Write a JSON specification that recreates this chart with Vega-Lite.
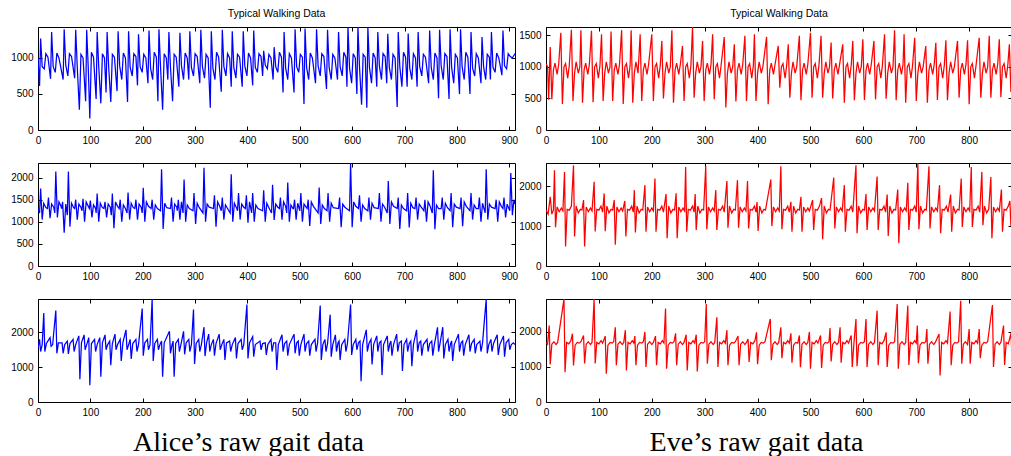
{
"$schema": "https://vega.github.io/schema/vega-lite/v6.json",
"background": "white",
"padding": {"left": 10, "top": 8, "right": 0, "bottom": 0},
"bounds": "flush",
"columns": 2,
"spacing": {"row": 33, "column": 31},
"concat": [
  {"data": {"name": "a1"}, "width": 477, "height": 103, "title": "Typical Walking Data",
   "layer": [
    {"mark": {"type": "line", "color": "#0000ff", "strokeWidth": 1.25, "clip": true},
     "encoding": {"x": {"field": "x", "type": "quantitative", "scale": {"domain": [0, 911], "nice": false}, "axis": {"values": [0,100,200,300,400,500,600,700,800,900]}},
                  "y": {"field": "y", "type": "quantitative", "scale": {"domain": [0, 1430], "nice": false}, "axis": {"values": [0,500,1000]}}}},
    {"mark": {"type": "line", "strokeOpacity": 0},
     "encoding": {"x": {"field": "x", "type": "quantitative", "axis": {"orient": "top", "labels": false, "values": [0,100,200,300,400,500,600,700,800,900]}},
                  "y": {"field": "y", "type": "quantitative", "axis": {"orient": "right", "labels": false, "values": [0,500,1000]}}}}
   ],
   "resolve": {"axis": {"x": "independent", "y": "independent"}}},
  {"data": {"name": "e1"}, "width": 466, "height": 103, "title": "Typical Walking Data",
   "layer": [
    {"mark": {"type": "line", "color": "#ff0000", "strokeWidth": 1.25, "clip": true},
     "encoding": {"x": {"field": "x", "type": "quantitative", "scale": {"domain": [0, 881], "nice": false}, "axis": {"values": [0,100,200,300,400,500,600,700,800]}},
                  "y": {"field": "y", "type": "quantitative", "scale": {"domain": [0, 1630], "nice": false}, "axis": {"values": [0,500,1000,1500]}}}},
    {"mark": {"type": "line", "strokeOpacity": 0},
     "encoding": {"x": {"field": "x", "type": "quantitative", "axis": {"orient": "top", "labels": false, "values": [0,100,200,300,400,500,600,700,800]}},
                  "y": {"field": "y", "type": "quantitative", "axis": {"orient": "right", "labels": false, "values": [0,500,1000,1500]}}}}
   ],
   "resolve": {"axis": {"x": "independent", "y": "independent"}}},
  {"data": {"name": "a2"}, "width": 477, "height": 103,
   "layer": [
    {"mark": {"type": "line", "color": "#0000ff", "strokeWidth": 1.25, "clip": true},
     "encoding": {"x": {"field": "x", "type": "quantitative", "scale": {"domain": [0, 911], "nice": false}, "axis": {"values": [0,100,200,300,400,500,600,700,800,900]}},
                  "y": {"field": "y", "type": "quantitative", "scale": {"domain": [0, 2330], "nice": false}, "axis": {"values": [0,500,1000,1500,2000]}}}},
    {"mark": {"type": "line", "strokeOpacity": 0},
     "encoding": {"x": {"field": "x", "type": "quantitative", "axis": {"orient": "top", "labels": false, "values": [0,100,200,300,400,500,600,700,800,900]}},
                  "y": {"field": "y", "type": "quantitative", "axis": {"orient": "right", "labels": false, "values": [0,500,1000,1500,2000]}}}}
   ],
   "resolve": {"axis": {"x": "independent", "y": "independent"}}},
  {"data": {"name": "e2"}, "width": 466, "height": 103,
   "layer": [
    {"mark": {"type": "line", "color": "#ff0000", "strokeWidth": 1.25, "clip": true},
     "encoding": {"x": {"field": "x", "type": "quantitative", "scale": {"domain": [0, 881], "nice": false}, "axis": {"values": [0,100,200,300,400,500,600,700,800]}},
                  "y": {"field": "y", "type": "quantitative", "scale": {"domain": [0, 2580], "nice": false}, "axis": {"values": [0,1000,2000]}}}},
    {"mark": {"type": "line", "strokeOpacity": 0},
     "encoding": {"x": {"field": "x", "type": "quantitative", "axis": {"orient": "top", "labels": false, "values": [0,100,200,300,400,500,600,700,800]}},
                  "y": {"field": "y", "type": "quantitative", "axis": {"orient": "right", "labels": false, "values": [0,1000,2000]}}}}
   ],
   "resolve": {"axis": {"x": "independent", "y": "independent"}}},
  {"data": {"name": "a3"}, "width": 477, "height": 103,
   "layer": [
    {"mark": {"type": "line", "color": "#0000ff", "strokeWidth": 1.25, "clip": true},
     "encoding": {"x": {"field": "x", "type": "quantitative", "scale": {"domain": [0, 911], "nice": false}, "axis": {"values": [0,100,200,300,400,500,600,700,800,900], "title": "Alice’s raw gait data", "titleFont": "Liberation Serif", "titleFontSize": 28, "titleFontWeight": "normal", "titleColor": "#000", "titleX": 210, "titleY": 48, "titleAlign": "center", "titleBaseline": "alphabetic", "titleAnchor": null}},
                  "y": {"field": "y", "type": "quantitative", "scale": {"domain": [0, 2960], "nice": false}, "axis": {"values": [0,1000,2000]}}}},
    {"mark": {"type": "line", "strokeOpacity": 0},
     "encoding": {"x": {"field": "x", "type": "quantitative", "axis": {"orient": "top", "labels": false, "values": [0,100,200,300,400,500,600,700,800,900]}},
                  "y": {"field": "y", "type": "quantitative", "axis": {"orient": "right", "labels": false, "values": [0,1000,2000]}}}}
   ],
   "resolve": {"axis": {"x": "independent", "y": "independent"}}},
  {"data": {"name": "e3"}, "width": 466, "height": 103,
   "layer": [
    {"mark": {"type": "line", "color": "#ff0000", "strokeWidth": 1.25, "clip": true},
     "encoding": {"x": {"field": "x", "type": "quantitative", "scale": {"domain": [0, 881], "nice": false}, "axis": {"values": [0,100,200,300,400,500,600,700,800], "title": "Eve’s raw gait data", "titleFont": "Liberation Serif", "titleFontSize": 28, "titleFontWeight": "normal", "titleColor": "#000", "titleX": 210, "titleY": 48, "titleAlign": "center", "titleBaseline": "alphabetic", "titleAnchor": null}},
                  "y": {"field": "y", "type": "quantitative", "scale": {"domain": [0, 2940], "nice": false}, "axis": {"values": [0,1000,2000]}}}},
    {"mark": {"type": "line", "strokeOpacity": 0},
     "encoding": {"x": {"field": "x", "type": "quantitative", "axis": {"orient": "top", "labels": false, "values": [0,100,200,300,400,500,600,700,800]}},
                  "y": {"field": "y", "type": "quantitative", "axis": {"orient": "right", "labels": false, "values": [0,1000,2000]}}}}
   ],
   "resolve": {"axis": {"x": "independent", "y": "independent"}}}
],
"datasets": {
"a1": [
{"x":0,"y":1000},{"x":3,"y":610},{"x":5,"y":1270},{"x":8,"y":880},{"x":12,"y":850},{"x":15,"y":1060},{"x":19,"y":1010},
{"x":24,"y":710},{"x":26,"y":1360},{"x":29,"y":880},{"x":33,"y":800},{"x":36,"y":1070},{"x":40,"y":1000},
{"x":48,"y":700},{"x":50,"y":1400},{"x":53,"y":900},{"x":57,"y":750},{"x":60,"y":1060},{"x":64,"y":1020},
{"x":70,"y":720},{"x":72,"y":1390},{"x":75,"y":870},{"x":79,"y":280},{"x":82,"y":1050},{"x":86,"y":1000},
{"x":91,"y":400},{"x":93,"y":1390},{"x":96,"y":860},{"x":99,"y":160},{"x":102,"y":1080},{"x":106,"y":1010},
{"x":111,"y":430},{"x":113,"y":1360},{"x":116,"y":880},{"x":120,"y":370},{"x":123,"y":1060},{"x":127,"y":1000},
{"x":130,"y":520},{"x":132,"y":1360},{"x":135,"y":870},{"x":139,"y":390},{"x":142,"y":1050},{"x":146,"y":1010},
{"x":151,"y":540},{"x":153,"y":1370},{"x":156,"y":890},{"x":160,"y":700},{"x":163,"y":1070},{"x":167,"y":1000},
{"x":171,"y":390},{"x":173,"y":1370},{"x":176,"y":870},{"x":180,"y":750},{"x":183,"y":1060},{"x":187,"y":1020},
{"x":190,"y":620},{"x":192,"y":1330},{"x":195,"y":880},{"x":199,"y":800},{"x":202,"y":1050},{"x":206,"y":1000},
{"x":210,"y":650},{"x":212,"y":1380},{"x":215,"y":860},{"x":219,"y":700},{"x":222,"y":1080},{"x":226,"y":1010},
{"x":229,"y":400},{"x":231,"y":1400},{"x":234,"y":880},{"x":238,"y":280},{"x":241,"y":1060},{"x":245,"y":1000},
{"x":248,"y":700},{"x":250,"y":1360},{"x":253,"y":870},{"x":257,"y":400},{"x":260,"y":1050},{"x":264,"y":1010},
{"x":269,"y":600},{"x":271,"y":1350},{"x":274,"y":890},{"x":278,"y":700},{"x":281,"y":1070},{"x":285,"y":1000},
{"x":288,"y":700},{"x":290,"y":1370},{"x":293,"y":870},{"x":297,"y":750},{"x":300,"y":1060},{"x":304,"y":1020},
{"x":309,"y":650},{"x":311,"y":1390},{"x":314,"y":880},{"x":318,"y":720},{"x":321,"y":1050},{"x":325,"y":1000},
{"x":329,"y":310},{"x":331,"y":1370},{"x":334,"y":860},{"x":338,"y":700},{"x":341,"y":1080},{"x":345,"y":1010},
{"x":350,"y":530},{"x":352,"y":1390},{"x":355,"y":880},{"x":359,"y":750},{"x":362,"y":1060},{"x":366,"y":1000},
{"x":369,"y":600},{"x":371,"y":1370},{"x":374,"y":870},{"x":378,"y":720},{"x":381,"y":1050},{"x":385,"y":1010},
{"x":390,"y":600},{"x":392,"y":1370},{"x":395,"y":890},{"x":399,"y":750},{"x":402,"y":1070},{"x":406,"y":1000},
{"x":410,"y":620},{"x":412,"y":1380},{"x":415,"y":870},{"x":419,"y":800},{"x":422,"y":1060},{"x":426,"y":1020},
{"x":429,"y":750},{"x":431,"y":1100},{"x":434,"y":900},{"x":438,"y":850},{"x":441,"y":1050},{"x":445,"y":1000},
{"x":449,"y":700},{"x":451,"y":1150},{"x":454,"y":880},{"x":458,"y":800},{"x":461,"y":1080},{"x":465,"y":1010},
{"x":468,"y":520},{"x":470,"y":1360},{"x":473,"y":860},{"x":477,"y":700},{"x":480,"y":1060},{"x":484,"y":1000},
{"x":489,"y":520},{"x":491,"y":1400},{"x":494,"y":880},{"x":498,"y":800},{"x":501,"y":1050},{"x":505,"y":1010},
{"x":508,"y":360},{"x":510,"y":1410},{"x":513,"y":870},{"x":517,"y":700},{"x":520,"y":1070},{"x":524,"y":1000},
{"x":530,"y":650},{"x":532,"y":1400},{"x":535,"y":890},{"x":539,"y":750},{"x":542,"y":1060},{"x":546,"y":1020},
{"x":551,"y":570},{"x":553,"y":1390},{"x":556,"y":870},{"x":560,"y":700},{"x":563,"y":1050},{"x":567,"y":1000},
{"x":572,"y":700},{"x":574,"y":1360},{"x":577,"y":880},{"x":581,"y":750},{"x":584,"y":1080},{"x":588,"y":1010},
{"x":590,"y":600},{"x":592,"y":1430},{"x":595,"y":860},{"x":599,"y":650},{"x":602,"y":1060},{"x":606,"y":1000},
{"x":609,"y":500},{"x":611,"y":1430},{"x":614,"y":880},{"x":618,"y":350},{"x":621,"y":1050},{"x":625,"y":1010},
{"x":628,"y":310},{"x":630,"y":1430},{"x":633,"y":870},{"x":637,"y":650},{"x":640,"y":1070},{"x":644,"y":1000},
{"x":647,"y":600},{"x":649,"y":1360},{"x":652,"y":890},{"x":656,"y":700},{"x":659,"y":1060},{"x":663,"y":1020},
{"x":666,"y":650},{"x":668,"y":1335},{"x":671,"y":870},{"x":675,"y":700},{"x":678,"y":1050},{"x":682,"y":1000},
{"x":686,"y":320},{"x":688,"y":1360},{"x":691,"y":880},{"x":695,"y":600},{"x":698,"y":1080},{"x":702,"y":1010},
{"x":705,"y":600},{"x":707,"y":1340},{"x":710,"y":860},{"x":714,"y":700},{"x":717,"y":1060},{"x":721,"y":1000},
{"x":724,"y":600},{"x":726,"y":1360},{"x":729,"y":880},{"x":733,"y":750},{"x":736,"y":1050},{"x":740,"y":1010},
{"x":746,"y":650},{"x":748,"y":1380},{"x":751,"y":870},{"x":755,"y":700},{"x":758,"y":1070},{"x":762,"y":1000},
{"x":765,"y":440},{"x":767,"y":1390},{"x":770,"y":890},{"x":774,"y":700},{"x":777,"y":1060},{"x":781,"y":1020},
{"x":785,"y":430},{"x":787,"y":1400},{"x":790,"y":870},{"x":794,"y":650},{"x":797,"y":1050},{"x":801,"y":1000},
{"x":805,"y":500},{"x":807,"y":1400},{"x":810,"y":880},{"x":814,"y":700},{"x":817,"y":1080},{"x":821,"y":1010},
{"x":825,"y":500},{"x":827,"y":1360},{"x":830,"y":860},{"x":834,"y":750},{"x":837,"y":1060},{"x":841,"y":1000},
{"x":846,"y":650},{"x":848,"y":1290},{"x":851,"y":880},{"x":855,"y":700},{"x":858,"y":1050},{"x":862,"y":1010},
{"x":864,"y":700},{"x":866,"y":1360},{"x":869,"y":870},{"x":873,"y":800},{"x":876,"y":1070},{"x":880,"y":1000},
{"x":886,"y":760},{"x":888,"y":1380},{"x":891,"y":890},{"x":895,"y":850},{"x":898,"y":1060},{"x":902,"y":1020},
{"x":906,"y":1000},{"x":911,"y":1060}
],
"a2": [
{"x":0,"y":1300},{"x":3,"y":1200},{"x":5,"y":1750},{"x":8,"y":1050},{"x":11,"y":1420},{"x":15,"y":1320},
{"x":18,"y":1300},{"x":20,"y":1550},{"x":23,"y":1080},{"x":26,"y":1400},{"x":30,"y":1330},
{"x":32,"y":1200},{"x":34,"y":2140},{"x":37,"y":1100},{"x":40,"y":1450},{"x":44,"y":1350},
{"x":45,"y":1300},{"x":47,"y":1450},{"x":50,"y":755},{"x":53,"y":1400},
{"x":56,"y":1150},{"x":58,"y":2140},{"x":61,"y":890},{"x":64,"y":1420},{"x":68,"y":1320},
{"x":70,"y":1300},{"x":72,"y":1500},{"x":75,"y":1050},{"x":78,"y":1400},{"x":82,"y":1330},
{"x":84,"y":1250},{"x":86,"y":1520},{"x":89,"y":1000},{"x":92,"y":1450},{"x":96,"y":1350},
{"x":98,"y":1300},{"x":100,"y":1480},{"x":103,"y":1100},{"x":106,"y":1380},{"x":110,"y":1300},
{"x":111,"y":1200},{"x":113,"y":1640},{"x":116,"y":1000},{"x":119,"y":1420},{"x":123,"y":1320},
{"x":126,"y":1300},{"x":128,"y":1450},{"x":131,"y":1100},{"x":134,"y":1400},{"x":138,"y":1330},
{"x":140,"y":1150},{"x":142,"y":1640},{"x":145,"y":855},{"x":148,"y":1450},{"x":152,"y":1350},
{"x":155,"y":1300},{"x":157,"y":1500},{"x":160,"y":1000},{"x":163,"y":1380},{"x":167,"y":1300},
{"x":170,"y":1200},{"x":172,"y":1660},{"x":175,"y":1050},{"x":178,"y":1420},{"x":182,"y":1320},
{"x":185,"y":1300},{"x":187,"y":1500},{"x":190,"y":1050},{"x":193,"y":1400},{"x":197,"y":1330},
{"x":199,"y":1200},{"x":201,"y":1770},{"x":204,"y":1000},{"x":207,"y":1450},{"x":211,"y":1350},
{"x":216,"y":1300},{"x":218,"y":1500},{"x":221,"y":1050},{"x":224,"y":1380},{"x":228,"y":1300},
{"x":234,"y":1250},{"x":236,"y":2190},{"x":239,"y":840},{"x":242,"y":1420},{"x":246,"y":1320},
{"x":253,"y":1300},{"x":255,"y":1550},{"x":258,"y":1000},{"x":261,"y":1400},{"x":265,"y":1330},
{"x":266,"y":1250},{"x":268,"y":1500},{"x":271,"y":1050},{"x":274,"y":1450},
{"x":277,"y":1200},{"x":279,"y":1955},{"x":282,"y":1000},{"x":285,"y":1380},{"x":289,"y":1300},
{"x":296,"y":1250},{"x":298,"y":1650},{"x":301,"y":950},{"x":304,"y":1420},{"x":308,"y":1320},
{"x":315,"y":1200},{"x":317,"y":2220},{"x":320,"y":1000},{"x":323,"y":1400},{"x":327,"y":1330},
{"x":335,"y":1300},{"x":337,"y":1600},{"x":340,"y":890},{"x":343,"y":1450},{"x":347,"y":1350},
{"x":350,"y":1250},{"x":352,"y":1550},{"x":355,"y":1050},{"x":358,"y":1380},{"x":362,"y":1300},
{"x":367,"y":1200},{"x":369,"y":2075},{"x":372,"y":1000},{"x":375,"y":1420},{"x":379,"y":1320},
{"x":381,"y":1250},{"x":383,"y":1650},{"x":386,"y":1050},{"x":389,"y":1400},{"x":393,"y":1330},
{"x":396,"y":1300},{"x":398,"y":1600},{"x":401,"y":980},{"x":404,"y":1450},
{"x":408,"y":1200},{"x":410,"y":1650},{"x":413,"y":1000},{"x":416,"y":1380},{"x":420,"y":1300},
{"x":429,"y":1250},{"x":431,"y":1715},{"x":434,"y":1000},{"x":437,"y":1420},{"x":441,"y":1320},
{"x":446,"y":1200},{"x":448,"y":1840},{"x":451,"y":1040},{"x":454,"y":1400},{"x":458,"y":1330},
{"x":461,"y":1300},{"x":463,"y":1550},{"x":466,"y":1050},{"x":469,"y":1450},{"x":473,"y":1350},
{"x":475,"y":1200},{"x":477,"y":1890},{"x":480,"y":1000},{"x":483,"y":1380},{"x":487,"y":1300},
{"x":488,"y":1300},{"x":490,"y":1500},{"x":493,"y":1050},{"x":496,"y":1420},
{"x":500,"y":1250},{"x":502,"y":1650},{"x":505,"y":1000},{"x":508,"y":1400},{"x":512,"y":1330},
{"x":514,"y":1300},{"x":516,"y":1500},{"x":519,"y":905},{"x":522,"y":1450},{"x":526,"y":1350},
{"x":535,"y":1200},{"x":537,"y":1775},{"x":540,"y":950},{"x":543,"y":1380},{"x":547,"y":1300},
{"x":552,"y":1250},{"x":554,"y":1650},{"x":557,"y":1000},{"x":560,"y":1420},{"x":564,"y":1320},
{"x":574,"y":1300},{"x":576,"y":1550},{"x":579,"y":880},{"x":582,"y":1400},{"x":586,"y":1330},
{"x":595,"y":1250},{"x":597,"y":2330},{"x":600,"y":875},{"x":603,"y":1450},{"x":607,"y":1350},
{"x":612,"y":1300},{"x":614,"y":1600},{"x":617,"y":1000},{"x":620,"y":1380},{"x":624,"y":1300},
{"x":630,"y":1250},{"x":632,"y":1550},{"x":635,"y":1050},{"x":638,"y":1420},{"x":642,"y":1320},
{"x":650,"y":1300},{"x":652,"y":1650},{"x":655,"y":1000},{"x":658,"y":1400},{"x":662,"y":1330},
{"x":667,"y":1200},{"x":669,"y":1925},{"x":672,"y":950},{"x":675,"y":1450},{"x":679,"y":1350},
{"x":686,"y":1300},{"x":688,"y":1550},{"x":691,"y":840},{"x":694,"y":1380},{"x":698,"y":1300},
{"x":704,"y":1250},{"x":706,"y":1650},{"x":709,"y":870},{"x":712,"y":1420},{"x":716,"y":1320},
{"x":720,"y":1300},{"x":722,"y":1550},{"x":725,"y":1050},{"x":728,"y":1400},{"x":732,"y":1330},
{"x":737,"y":1250},{"x":739,"y":1500},{"x":742,"y":1000},{"x":745,"y":1450},{"x":749,"y":1350},
{"x":753,"y":1200},{"x":755,"y":2165},{"x":758,"y":830},{"x":761,"y":1380},{"x":765,"y":1300},
{"x":770,"y":1300},{"x":772,"y":1550},{"x":775,"y":1050},{"x":778,"y":1420},{"x":782,"y":1320},
{"x":787,"y":1250},{"x":789,"y":1650},{"x":792,"y":875},{"x":795,"y":1400},{"x":799,"y":1330},
{"x":806,"y":1300},{"x":808,"y":1550},{"x":811,"y":900},{"x":814,"y":1450},{"x":818,"y":1350},
{"x":825,"y":1250},{"x":827,"y":1650},{"x":830,"y":1050},{"x":833,"y":1380},{"x":837,"y":1300},
{"x":841,"y":1300},{"x":843,"y":1550},{"x":846,"y":1000},{"x":849,"y":1420},
{"x":854,"y":1200},{"x":856,"y":2190},{"x":859,"y":1050},{"x":862,"y":1400},{"x":866,"y":1330},
{"x":873,"y":1300},{"x":875,"y":1500},{"x":878,"y":1000},{"x":881,"y":1450},{"x":885,"y":1350},
{"x":888,"y":1300},{"x":890,"y":1550},{"x":893,"y":1100},{"x":896,"y":1400},
{"x":901,"y":1250},{"x":903,"y":2105},{"x":906,"y":1150},{"x":909,"y":1500},{"x":911,"y":1400}
],
"a3": [
{"x":0,"y":1550},{"x":3,"y":1800},{"x":5,"y":1450},{"x":8,"y":1650},
{"x":11,"y":2560},{"x":13,"y":1450},{"x":16,"y":1680},
{"x":23,"y":1850},{"x":25,"y":1600},{"x":28,"y":1650},
{"x":34,"y":2630},{"x":36,"y":1400},{"x":39,"y":1700},
{"x":46,"y":1700},{"x":48,"y":1400},{"x":51,"y":1650},
{"x":56,"y":1750},{"x":58,"y":1380},{"x":61,"y":1680},
{"x":67,"y":1800},{"x":69,"y":1450},{"x":72,"y":1650},
{"x":78,"y":1900},{"x":80,"y":657},{"x":83,"y":1700},
{"x":88,"y":1930},{"x":90,"y":1500},{"x":93,"y":1650},
{"x":97,"y":1850},{"x":99,"y":483},{"x":102,"y":1680},
{"x":108,"y":1800},{"x":110,"y":1450},{"x":113,"y":1650},
{"x":118,"y":1850},{"x":120,"y":725},{"x":123,"y":1700},
{"x":128,"y":1930},{"x":130,"y":1500},{"x":133,"y":1650},
{"x":137,"y":1750},{"x":139,"y":1060},{"x":142,"y":1680},
{"x":147,"y":1950},{"x":149,"y":1500},{"x":152,"y":1650},
{"x":157,"y":1800},{"x":159,"y":1180},{"x":162,"y":1700},
{"x":168,"y":2075},{"x":170,"y":1500},{"x":173,"y":1650},
{"x":176,"y":1800},{"x":178,"y":1240},{"x":181,"y":1680},
{"x":187,"y":1800},{"x":189,"y":1450},{"x":192,"y":1650},
{"x":199,"y":2685},{"x":201,"y":1330},{"x":204,"y":1700},
{"x":209,"y":1800},{"x":211,"y":1500},{"x":214,"y":1650},
{"x":218,"y":2960},{"x":220,"y":1180},{"x":223,"y":1680},
{"x":228,"y":1800},{"x":230,"y":1500},{"x":233,"y":1650},
{"x":236,"y":1750},{"x":238,"y":725},{"x":241,"y":1700},
{"x":251,"y":2030},{"x":253,"y":1400},{"x":256,"y":1650},
{"x":258,"y":1750},{"x":260,"y":725},{"x":263,"y":1680},
{"x":268,"y":1800},{"x":270,"y":1450},{"x":273,"y":1650},
{"x":278,"y":2030},{"x":280,"y":1370},{"x":283,"y":1700},
{"x":288,"y":1800},{"x":290,"y":1450},{"x":293,"y":1650},
{"x":297,"y":2655},{"x":299,"y":1090},{"x":302,"y":1680},
{"x":307,"y":1800},{"x":309,"y":1450},{"x":312,"y":1650},
{"x":317,"y":2150},{"x":319,"y":1320},{"x":322,"y":1700},
{"x":326,"y":1950},{"x":328,"y":1450},{"x":331,"y":1650},
{"x":335,"y":1800},{"x":337,"y":1330},{"x":340,"y":1680},
{"x":346,"y":1950},{"x":348,"y":1500},{"x":351,"y":1650},
{"x":355,"y":1800},{"x":357,"y":1210},{"x":360,"y":1700},
{"x":366,"y":1750},{"x":368,"y":1450},{"x":371,"y":1650},
{"x":377,"y":1850},{"x":379,"y":1250},{"x":382,"y":1680},
{"x":388,"y":1800},{"x":390,"y":1500},{"x":393,"y":1650},
{"x":399,"y":2800},{"x":401,"y":1250},{"x":404,"y":1700},
{"x":410,"y":1880},{"x":412,"y":1300},{"x":415,"y":1650},
{"x":424,"y":1750},{"x":426,"y":1500},{"x":429,"y":1680},
{"x":434,"y":1700},{"x":436,"y":1350},{"x":439,"y":1650},
{"x":445,"y":1800},{"x":447,"y":1450},{"x":450,"y":1700},
{"x":454,"y":1700},{"x":456,"y":918},{"x":459,"y":1650},
{"x":466,"y":1930},{"x":468,"y":1450},{"x":471,"y":1680},
{"x":475,"y":1750},{"x":477,"y":1330},{"x":480,"y":1650},
{"x":489,"y":1950},{"x":491,"y":1400},{"x":494,"y":1700},
{"x":497,"y":1750},{"x":499,"y":1330},{"x":502,"y":1650},
{"x":508,"y":1950},{"x":510,"y":1450},{"x":513,"y":1680},
{"x":517,"y":1750},{"x":519,"y":1330},{"x":522,"y":1650},
{"x":529,"y":1800},{"x":531,"y":1450},{"x":534,"y":1700},
{"x":539,"y":2770},{"x":541,"y":1210},{"x":544,"y":1650},
{"x":548,"y":1800},{"x":550,"y":1450},{"x":553,"y":1680},
{"x":558,"y":2510},{"x":560,"y":1300},{"x":563,"y":1650},
{"x":568,"y":1930},{"x":570,"y":1450},{"x":573,"y":1700},
{"x":575,"y":1750},{"x":577,"y":1210},{"x":580,"y":1650},
{"x":586,"y":1800},{"x":588,"y":1450},{"x":591,"y":1680},
{"x":597,"y":2800},{"x":599,"y":1350},{"x":602,"y":1650},
{"x":607,"y":1800},{"x":609,"y":1500},{"x":612,"y":1700},
{"x":615,"y":1750},{"x":617,"y":600},{"x":620,"y":1650},
{"x":627,"y":2075},{"x":629,"y":1450},{"x":632,"y":1680},
{"x":636,"y":1800},{"x":638,"y":1080},{"x":641,"y":1650},
{"x":647,"y":1900},{"x":649,"y":1450},{"x":652,"y":1700},
{"x":655,"y":1750},{"x":657,"y":773},{"x":660,"y":1650},
{"x":667,"y":1900},{"x":669,"y":1450},{"x":672,"y":1680},
{"x":674,"y":1750},{"x":676,"y":1330},{"x":679,"y":1650},
{"x":685,"y":1950},{"x":687,"y":1450},{"x":690,"y":1700},
{"x":694,"y":1750},{"x":696,"y":890},{"x":699,"y":1650},
{"x":704,"y":1800},{"x":706,"y":1450},{"x":709,"y":1680},
{"x":712,"y":1750},{"x":714,"y":1030},{"x":717,"y":1650},
{"x":723,"y":2075},{"x":725,"y":1450},{"x":728,"y":1700},
{"x":731,"y":1750},{"x":733,"y":1330},{"x":736,"y":1650},
{"x":743,"y":1800},{"x":745,"y":1450},{"x":748,"y":1680},
{"x":752,"y":1750},{"x":754,"y":1330},{"x":757,"y":1650},
{"x":763,"y":2145},{"x":765,"y":1450},{"x":768,"y":1700},
{"x":773,"y":2150},{"x":775,"y":1250},{"x":778,"y":1650},
{"x":783,"y":1800},{"x":785,"y":1450},{"x":788,"y":1680},
{"x":790,"y":1750},{"x":792,"y":1180},{"x":795,"y":1650},
{"x":803,"y":1950},{"x":805,"y":1450},{"x":808,"y":1700},
{"x":811,"y":1750},{"x":813,"y":1330},{"x":816,"y":1650},
{"x":823,"y":1930},{"x":825,"y":1450},{"x":828,"y":1680},
{"x":833,"y":1800},{"x":835,"y":1400},{"x":838,"y":1650},
{"x":844,"y":1750},{"x":846,"y":1450},{"x":849,"y":1700},
{"x":856,"y":2960},{"x":858,"y":1400},{"x":861,"y":1650},
{"x":865,"y":1800},{"x":867,"y":1450},{"x":870,"y":1680},
{"x":877,"y":1930},{"x":879,"y":1350},{"x":882,"y":1650},
{"x":889,"y":1900},{"x":891,"y":1300},{"x":894,"y":1700},
{"x":899,"y":1800},{"x":901,"y":1500},{"x":904,"y":1650},
{"x":908,"y":1700},{"x":911,"y":1650}
],
"e1": [
{"x":0,"y":1050},{"x":3,"y":1000},{"x":5,"y":480},
{"x":8,"y":1315},{"x":11,"y":485},{"x":14,"y":950},{"x":17,"y":1060},{"x":21,"y":880},{"x":24,"y":1040},
{"x":28,"y":1540},{"x":31,"y":410},{"x":34,"y":1000},{"x":37,"y":1050},{"x":41,"y":820},{"x":44,"y":1020},
{"x":48,"y":1585},{"x":51,"y":460},{"x":54,"y":900},{"x":57,"y":1080},{"x":61,"y":900},{"x":64,"y":1000},
{"x":66,"y":1580},{"x":69,"y":430},{"x":72,"y":950},{"x":75,"y":1060},{"x":79,"y":880},{"x":82,"y":1040},
{"x":86,"y":1570},{"x":89,"y":440},{"x":92,"y":1000},{"x":95,"y":1050},{"x":99,"y":820},{"x":102,"y":1020},
{"x":105,"y":1515},{"x":108,"y":460},{"x":111,"y":900},{"x":114,"y":1080},{"x":118,"y":900},{"x":121,"y":1000},
{"x":123,"y":1557},{"x":126,"y":460},{"x":129,"y":950},{"x":132,"y":1060},{"x":136,"y":880},{"x":139,"y":1040},
{"x":143,"y":1580},{"x":146,"y":410},{"x":149,"y":1000},{"x":152,"y":1050},{"x":156,"y":820},{"x":159,"y":1020},
{"x":161,"y":1580},{"x":164,"y":430},{"x":167,"y":900},{"x":170,"y":1080},{"x":174,"y":900},
{"x":178,"y":1515},{"x":181,"y":460},{"x":184,"y":950},{"x":187,"y":1060},{"x":191,"y":880},{"x":194,"y":1040},
{"x":200,"y":1515},{"x":203,"y":460},{"x":206,"y":1000},{"x":209,"y":1050},{"x":213,"y":820},{"x":216,"y":1020},
{"x":219,"y":1410},{"x":222,"y":500},{"x":225,"y":900},{"x":228,"y":1080},{"x":232,"y":900},{"x":235,"y":1000},
{"x":238,"y":1580},{"x":241,"y":430},{"x":244,"y":950},{"x":247,"y":1060},{"x":251,"y":880},{"x":254,"y":1040},
{"x":258,"y":1330},{"x":261,"y":460},{"x":264,"y":1000},{"x":267,"y":1050},{"x":271,"y":820},{"x":274,"y":1020},
{"x":277,"y":1630},{"x":280,"y":510},{"x":283,"y":900},{"x":286,"y":1080},{"x":290,"y":900},{"x":293,"y":1000},
{"x":296,"y":1410},{"x":299,"y":460},{"x":302,"y":950},{"x":305,"y":1060},{"x":309,"y":880},{"x":312,"y":1040},
{"x":315,"y":1515},{"x":318,"y":485},{"x":321,"y":1000},{"x":324,"y":1050},{"x":328,"y":820},{"x":331,"y":1020},
{"x":337,"y":1470},{"x":340,"y":355},{"x":343,"y":900},{"x":346,"y":1080},{"x":350,"y":900},{"x":353,"y":1000},
{"x":356,"y":1355},{"x":359,"y":450},{"x":362,"y":950},{"x":365,"y":1060},{"x":369,"y":880},{"x":372,"y":1040},
{"x":376,"y":1490},{"x":379,"y":460},{"x":382,"y":1000},{"x":385,"y":1050},{"x":389,"y":820},{"x":392,"y":1020},
{"x":394,"y":1515},{"x":397,"y":460},{"x":400,"y":900},{"x":403,"y":1080},{"x":407,"y":900},{"x":410,"y":1000},
{"x":417,"y":1473},{"x":420,"y":407},{"x":423,"y":950},{"x":426,"y":1060},{"x":430,"y":880},{"x":433,"y":1040},
{"x":439,"y":1330},{"x":442,"y":670},{"x":445,"y":1000},{"x":448,"y":1050},{"x":452,"y":820},{"x":455,"y":1020},
{"x":458,"y":1355},{"x":461,"y":510},{"x":464,"y":900},{"x":467,"y":1080},{"x":471,"y":900},{"x":474,"y":1000},
{"x":479,"y":1490},{"x":482,"y":470},{"x":485,"y":950},{"x":488,"y":1060},{"x":492,"y":880},{"x":495,"y":1040},
{"x":500,"y":1540},{"x":503,"y":510},{"x":506,"y":1000},{"x":509,"y":1050},{"x":513,"y":820},{"x":516,"y":1020},
{"x":520,"y":1490},{"x":523,"y":510},{"x":526,"y":900},{"x":529,"y":1080},{"x":533,"y":900},{"x":536,"y":1000},
{"x":539,"y":1385},{"x":542,"y":500},{"x":545,"y":950},{"x":548,"y":1060},{"x":552,"y":880},{"x":555,"y":1040},
{"x":561,"y":1355},{"x":564,"y":430},{"x":567,"y":1000},{"x":570,"y":1050},{"x":574,"y":820},{"x":577,"y":1020},
{"x":580,"y":1410},{"x":583,"y":470},{"x":586,"y":900},{"x":589,"y":1080},{"x":593,"y":900},{"x":596,"y":1000},
{"x":599,"y":1435},{"x":602,"y":475},{"x":605,"y":950},{"x":608,"y":1060},{"x":612,"y":880},{"x":615,"y":1040},
{"x":620,"y":1410},{"x":623,"y":485},{"x":626,"y":1000},{"x":629,"y":1050},{"x":633,"y":820},{"x":636,"y":1020},
{"x":640,"y":1515},{"x":643,"y":495},{"x":646,"y":900},{"x":649,"y":1080},{"x":653,"y":900},{"x":656,"y":1000},
{"x":659,"y":1580},{"x":662,"y":470},{"x":665,"y":950},{"x":668,"y":1060},{"x":672,"y":880},{"x":675,"y":1040},
{"x":677,"y":1515},{"x":680,"y":433},{"x":683,"y":1000},{"x":686,"y":1050},{"x":690,"y":820},{"x":693,"y":1020},
{"x":697,"y":1460},{"x":700,"y":460},{"x":703,"y":900},{"x":706,"y":1080},{"x":710,"y":900},{"x":713,"y":1000},
{"x":718,"y":1330},{"x":721,"y":433},{"x":724,"y":950},{"x":727,"y":1060},{"x":731,"y":880},{"x":734,"y":1040},
{"x":737,"y":1380},{"x":740,"y":475},{"x":743,"y":1000},{"x":746,"y":1050},{"x":750,"y":820},{"x":753,"y":1020},
{"x":756,"y":1420},{"x":759,"y":470},{"x":762,"y":900},{"x":765,"y":1080},{"x":769,"y":900},{"x":772,"y":1000},
{"x":778,"y":1410},{"x":781,"y":510},{"x":784,"y":950},{"x":787,"y":1060},{"x":791,"y":880},{"x":794,"y":1040},
{"x":797,"y":1420},{"x":800,"y":407},{"x":803,"y":1000},{"x":806,"y":1050},{"x":810,"y":820},{"x":813,"y":1020},
{"x":819,"y":1460},{"x":822,"y":510},{"x":825,"y":900},{"x":828,"y":1080},{"x":832,"y":900},{"x":835,"y":1000},
{"x":838,"y":1490},{"x":841,"y":510},{"x":844,"y":950},{"x":847,"y":1060},{"x":851,"y":880},{"x":854,"y":1040},
{"x":857,"y":1435},{"x":860,"y":520},{"x":863,"y":1000},{"x":866,"y":1050},{"x":870,"y":820},{"x":873,"y":1020},
{"x":876,"y":1355},{"x":879,"y":600},{"x":881,"y":1000}
],
"e2": [
{"x":0,"y":1400},{"x":4,"y":1300},{"x":8,"y":1735},{"x":11,"y":1300},{"x":14,"y":1400},
{"x":16,"y":2400},{"x":18,"y":970},{"x":21,"y":1480},{"x":25,"y":1360},{"x":29,"y":1450},{"x":32,"y":1380},
{"x":35,"y":2357},{"x":37,"y":490},{"x":40,"y":1420},{"x":44,"y":1400},{"x":48,"y":1500},
{"x":52,"y":2520},{"x":54,"y":740},{"x":57,"y":1500},{"x":61,"y":1330},{"x":65,"y":1420},{"x":68,"y":1400},
{"x":71,"y":1650},{"x":73,"y":490},{"x":76,"y":1480},{"x":80,"y":1360},{"x":84,"y":1450},{"x":87,"y":1380},
{"x":91,"y":2108},{"x":93,"y":863},{"x":96,"y":1420},{"x":100,"y":1400},{"x":104,"y":1500},{"x":107,"y":1350},
{"x":110,"y":1818},{"x":112,"y":870},{"x":115,"y":1500},{"x":119,"y":1330},{"x":123,"y":1420},{"x":126,"y":1400},
{"x":129,"y":1650},{"x":131,"y":530},{"x":134,"y":1480},{"x":138,"y":1360},{"x":142,"y":1450},{"x":145,"y":1380},
{"x":149,"y":1630},{"x":151,"y":740},{"x":154,"y":1420},{"x":158,"y":1400},{"x":162,"y":1500},{"x":165,"y":1350},
{"x":167,"y":1900},{"x":169,"y":840},{"x":172,"y":1500},{"x":176,"y":1330},{"x":180,"y":1420},{"x":183,"y":1400},
{"x":187,"y":2025},{"x":189,"y":860},{"x":192,"y":1480},{"x":196,"y":1360},{"x":200,"y":1450},{"x":203,"y":1380},
{"x":206,"y":2190},{"x":208,"y":860},{"x":211,"y":1420},{"x":215,"y":1400},{"x":219,"y":1500},{"x":222,"y":1350},
{"x":227,"y":1800},{"x":229,"y":697},{"x":232,"y":1500},{"x":236,"y":1330},{"x":240,"y":1420},{"x":243,"y":1400},
{"x":246,"y":1820},{"x":248,"y":697},{"x":251,"y":1480},{"x":255,"y":1360},{"x":259,"y":1450},{"x":262,"y":1380},
{"x":264,"y":2480},{"x":266,"y":860},{"x":269,"y":1420},{"x":273,"y":1400},{"x":277,"y":1500},{"x":280,"y":1350},
{"x":282,"y":1800},{"x":284,"y":900},{"x":287,"y":1500},{"x":291,"y":1330},{"x":295,"y":1420},{"x":298,"y":1400},
{"x":302,"y":2500},{"x":304,"y":920},{"x":307,"y":1480},{"x":311,"y":1360},{"x":315,"y":1450},{"x":318,"y":1380},
{"x":321,"y":1900},{"x":323,"y":900},{"x":326,"y":1420},{"x":330,"y":1400},{"x":334,"y":1500},{"x":337,"y":1350},
{"x":342,"y":2130},{"x":344,"y":960},{"x":347,"y":1500},{"x":351,"y":1330},{"x":355,"y":1420},{"x":358,"y":1400},
{"x":362,"y":2150},{"x":364,"y":960},{"x":367,"y":1480},{"x":371,"y":1360},{"x":375,"y":1450},{"x":378,"y":1380},
{"x":381,"y":2130},{"x":383,"y":940},{"x":386,"y":1420},{"x":390,"y":1400},{"x":394,"y":1500},{"x":397,"y":1350},
{"x":399,"y":1600},{"x":401,"y":880},{"x":404,"y":1500},{"x":408,"y":1330},{"x":412,"y":1420},{"x":415,"y":1400},
{"x":425,"y":2166},{"x":427,"y":1000},{"x":430,"y":1480},{"x":434,"y":1360},{"x":438,"y":1450},{"x":441,"y":1380},
{"x":444,"y":2500},{"x":446,"y":920},{"x":449,"y":1420},{"x":453,"y":1400},{"x":457,"y":1500},{"x":460,"y":1350},
{"x":463,"y":1610},{"x":465,"y":860},{"x":468,"y":1500},{"x":472,"y":1330},{"x":476,"y":1420},{"x":479,"y":1400},
{"x":482,"y":1735},{"x":484,"y":860},{"x":487,"y":1480},{"x":491,"y":1360},{"x":495,"y":1450},{"x":498,"y":1380},
{"x":504,"y":1650},{"x":506,"y":900},{"x":509,"y":1420},{"x":513,"y":1400},{"x":517,"y":1500},
{"x":521,"y":1700},{"x":523,"y":672},{"x":526,"y":1500},{"x":530,"y":1330},{"x":534,"y":1420},{"x":537,"y":1400},
{"x":544,"y":2216},{"x":546,"y":940},{"x":549,"y":1480},{"x":553,"y":1360},{"x":557,"y":1450},{"x":560,"y":1380},
{"x":564,"y":2025},{"x":566,"y":860},{"x":569,"y":1420},{"x":573,"y":1400},{"x":577,"y":1500},{"x":580,"y":1350},
{"x":586,"y":2523},{"x":588,"y":820},{"x":591,"y":1500},{"x":595,"y":1330},{"x":599,"y":1420},{"x":602,"y":1400},
{"x":605,"y":1800},{"x":607,"y":900},{"x":610,"y":1480},{"x":614,"y":1360},{"x":618,"y":1450},{"x":621,"y":1380},
{"x":626,"y":2240},{"x":628,"y":900},{"x":631,"y":1420},{"x":635,"y":1400},{"x":639,"y":1500},{"x":642,"y":1350},
{"x":645,"y":1790},{"x":647,"y":755},{"x":650,"y":1500},{"x":654,"y":1330},{"x":658,"y":1420},{"x":661,"y":1400},
{"x":665,"y":1917},{"x":667,"y":572},{"x":670,"y":1480},{"x":674,"y":1360},{"x":678,"y":1450},{"x":681,"y":1380},
{"x":684,"y":2083},{"x":686,"y":900},{"x":689,"y":1420},{"x":693,"y":1400},{"x":697,"y":1500},{"x":700,"y":1350},
{"x":703,"y":2580},{"x":705,"y":920},{"x":708,"y":1500},{"x":712,"y":1330},{"x":716,"y":1420},{"x":719,"y":1400},
{"x":724,"y":2500},{"x":726,"y":940},{"x":729,"y":1480},{"x":733,"y":1360},{"x":737,"y":1450},{"x":740,"y":1380},
{"x":744,"y":2025},{"x":746,"y":820},{"x":749,"y":1420},{"x":753,"y":1400},{"x":757,"y":1500},{"x":760,"y":1350},
{"x":765,"y":1790},{"x":767,"y":860},{"x":770,"y":1500},{"x":774,"y":1330},{"x":778,"y":1420},{"x":781,"y":1400},
{"x":785,"y":2190},{"x":787,"y":980},{"x":790,"y":1480},{"x":794,"y":1360},{"x":798,"y":1450},{"x":801,"y":1380},
{"x":804,"y":2480},{"x":806,"y":980},{"x":809,"y":1420},{"x":813,"y":1400},{"x":817,"y":1500},{"x":820,"y":1350},
{"x":824,"y":2357},{"x":826,"y":1020},{"x":829,"y":1500},{"x":833,"y":1330},{"x":837,"y":1420},
{"x":841,"y":2230},{"x":843,"y":697},{"x":846,"y":1480},{"x":850,"y":1360},{"x":854,"y":1450},{"x":857,"y":1380},
{"x":861,"y":1917},{"x":863,"y":860},{"x":866,"y":1420},{"x":870,"y":1400},{"x":874,"y":1500},
{"x":877,"y":1630},{"x":879,"y":1000},{"x":881,"y":1400}
],
"e3": [
{"x":0,"y":1700},{"x":3,"y":1650},
{"x":6,"y":2180},{"x":8,"y":1070},{"x":11,"y":1650},{"x":15,"y":1720},{"x":19,"y":1640},{"x":22,"y":1700},
{"x":34,"y":2940},{"x":36,"y":850},{"x":39,"y":1700},{"x":43,"y":1660},{"x":47,"y":1750},
{"x":50,"y":1950},{"x":52,"y":1040},{"x":55,"y":1620},{"x":59,"y":1700},{"x":63,"y":1680},{"x":66,"y":1720},
{"x":71,"y":1900},{"x":73,"y":1100},{"x":76,"y":1650},{"x":80,"y":1720},{"x":84,"y":1640},{"x":87,"y":1700},
{"x":91,"y":2940},{"x":93,"y":1100},{"x":96,"y":1700},{"x":100,"y":1660},{"x":104,"y":1750},{"x":107,"y":1680},
{"x":112,"y":1880},{"x":114,"y":805},{"x":117,"y":1620},{"x":121,"y":1700},{"x":125,"y":1680},{"x":128,"y":1720},
{"x":131,"y":2130},{"x":133,"y":1050},{"x":136,"y":1650},{"x":140,"y":1720},{"x":144,"y":1640},{"x":147,"y":1700},
{"x":150,"y":2050},{"x":152,"y":900},{"x":155,"y":1700},{"x":159,"y":1660},{"x":163,"y":1750},{"x":166,"y":1680},
{"x":168,"y":1880},{"x":170,"y":1050},{"x":173,"y":1620},{"x":177,"y":1700},{"x":181,"y":1680},{"x":184,"y":1720},
{"x":187,"y":2000},{"x":189,"y":1000},{"x":192,"y":1650},{"x":196,"y":1720},{"x":200,"y":1640},{"x":203,"y":1700},
{"x":207,"y":1880},{"x":209,"y":1050},{"x":212,"y":1700},{"x":216,"y":1660},{"x":220,"y":1750},{"x":223,"y":1680},
{"x":226,"y":2670},{"x":228,"y":950},{"x":231,"y":1620},{"x":235,"y":1700},{"x":239,"y":1680},{"x":242,"y":1720},
{"x":245,"y":1960},{"x":247,"y":1050},{"x":250,"y":1650},{"x":254,"y":1720},{"x":258,"y":1640},{"x":261,"y":1700},
{"x":265,"y":1920},{"x":267,"y":900},{"x":270,"y":1700},{"x":274,"y":1660},{"x":278,"y":1750},{"x":281,"y":1680},
{"x":284,"y":1920},{"x":286,"y":870},{"x":289,"y":1620},{"x":293,"y":1700},{"x":297,"y":1680},{"x":300,"y":1720},
{"x":303,"y":2800},{"x":305,"y":1090},{"x":308,"y":1650},{"x":312,"y":1720},{"x":316,"y":1640},{"x":319,"y":1700},
{"x":323,"y":2420},{"x":325,"y":1000},{"x":328,"y":1700},{"x":332,"y":1660},{"x":336,"y":1750},{"x":339,"y":1680},
{"x":342,"y":2050},{"x":344,"y":1050},{"x":347,"y":1620},{"x":351,"y":1700},{"x":355,"y":1680},{"x":358,"y":1720},
{"x":363,"y":1880},{"x":365,"y":1050},{"x":368,"y":1650},{"x":372,"y":1720},{"x":376,"y":1640},{"x":379,"y":1700},
{"x":382,"y":1800},{"x":384,"y":1140},{"x":387,"y":1700},{"x":391,"y":1660},{"x":395,"y":1750},
{"x":398,"y":1990},{"x":400,"y":1080},{"x":403,"y":1620},{"x":407,"y":1700},{"x":411,"y":1680},{"x":414,"y":1720},
{"x":424,"y":2370},{"x":426,"y":1190},{"x":429,"y":1650},{"x":433,"y":1720},{"x":437,"y":1640},{"x":440,"y":1700},
{"x":444,"y":2130},{"x":446,"y":1250},{"x":449,"y":1700},{"x":453,"y":1660},{"x":457,"y":1750},{"x":460,"y":1680},
{"x":463,"y":1960},{"x":465,"y":1120},{"x":468,"y":1620},{"x":472,"y":1700},{"x":476,"y":1680},
{"x":479,"y":1900},{"x":481,"y":995},{"x":484,"y":1650},{"x":488,"y":1720},{"x":492,"y":1640},{"x":495,"y":1700},
{"x":498,"y":2000},{"x":500,"y":950},{"x":503,"y":1700},{"x":507,"y":1660},{"x":511,"y":1750},{"x":514,"y":1680},
{"x":519,"y":1900},{"x":521,"y":970},{"x":524,"y":1620},{"x":528,"y":1700},{"x":532,"y":1680},{"x":535,"y":1720},
{"x":537,"y":2110},{"x":539,"y":1160},{"x":542,"y":1650},{"x":546,"y":1720},{"x":550,"y":1640},{"x":553,"y":1700},
{"x":556,"y":2130},{"x":558,"y":1120},{"x":561,"y":1700},{"x":565,"y":1660},{"x":569,"y":1750},{"x":572,"y":1680},
{"x":577,"y":1900},{"x":579,"y":1000},{"x":582,"y":1650},
{"x":586,"y":2370},{"x":588,"y":1020},{"x":591,"y":1620},{"x":595,"y":1700},{"x":599,"y":1680},{"x":602,"y":1720},
{"x":605,"y":2370},{"x":607,"y":1000},{"x":610,"y":1650},{"x":614,"y":1720},{"x":618,"y":1640},{"x":621,"y":1700},
{"x":626,"y":2607},{"x":628,"y":1050},{"x":631,"y":1700},{"x":635,"y":1660},{"x":639,"y":1750},
{"x":643,"y":1990},{"x":645,"y":1000},{"x":648,"y":1620},{"x":652,"y":1700},{"x":656,"y":1680},{"x":659,"y":1720},
{"x":664,"y":2797},{"x":666,"y":950},{"x":669,"y":1650},{"x":673,"y":1720},{"x":677,"y":1640},{"x":680,"y":1700},
{"x":684,"y":2750},{"x":686,"y":1060},{"x":689,"y":1700},{"x":693,"y":1660},{"x":697,"y":1750},{"x":700,"y":1680},
{"x":702,"y":2180},{"x":704,"y":1110},{"x":707,"y":1620},{"x":711,"y":1700},{"x":715,"y":1680},{"x":718,"y":1720},
{"x":720,"y":2085},{"x":722,"y":1090},{"x":725,"y":1650},{"x":729,"y":1720},{"x":733,"y":1640},{"x":736,"y":1700},
{"x":743,"y":1940},{"x":745,"y":760},{"x":748,"y":1700},{"x":752,"y":1660},{"x":756,"y":1750},{"x":759,"y":1680},
{"x":764,"y":2580},{"x":766,"y":1050},{"x":769,"y":1620},{"x":773,"y":1700},{"x":777,"y":1680},{"x":780,"y":1720},
{"x":784,"y":2890},{"x":786,"y":1090},{"x":789,"y":1650},{"x":793,"y":1720},{"x":797,"y":1640},
{"x":800,"y":2085},{"x":802,"y":1090},{"x":805,"y":1700},{"x":809,"y":1660},{"x":813,"y":1750},{"x":816,"y":1680},
{"x":819,"y":2085},{"x":821,"y":1250},{"x":824,"y":1620},{"x":828,"y":1700},{"x":832,"y":1680},{"x":835,"y":1720},
{"x":844,"y":2770},{"x":846,"y":1000},{"x":849,"y":1650},{"x":853,"y":1720},{"x":857,"y":1640},{"x":860,"y":1700},
{"x":865,"y":2180},{"x":867,"y":1060},{"x":870,"y":1700},{"x":874,"y":1660},{"x":879,"y":1960},{"x":881,"y":1300}
]
},
"config": {
 "view": {"stroke": "#000", "strokeWidth": 1},
 "axis": {"title": null, "grid": false, "domain": false, "ticks": true, "tickSize": -4, "tickColor": "#000", "tickWidth": 1, "labelFont": "Liberation Sans", "labelFontSize": 10, "labelColor": "#000", "labelPadding": 9, "labelFlush": false, "labelOverlap": false, "format": "d"},
 "title": {"font": "Liberation Sans", "fontSize": 10.5, "fontWeight": "normal", "color": "#000", "offset": 7, "anchor": "middle"}
}
}
